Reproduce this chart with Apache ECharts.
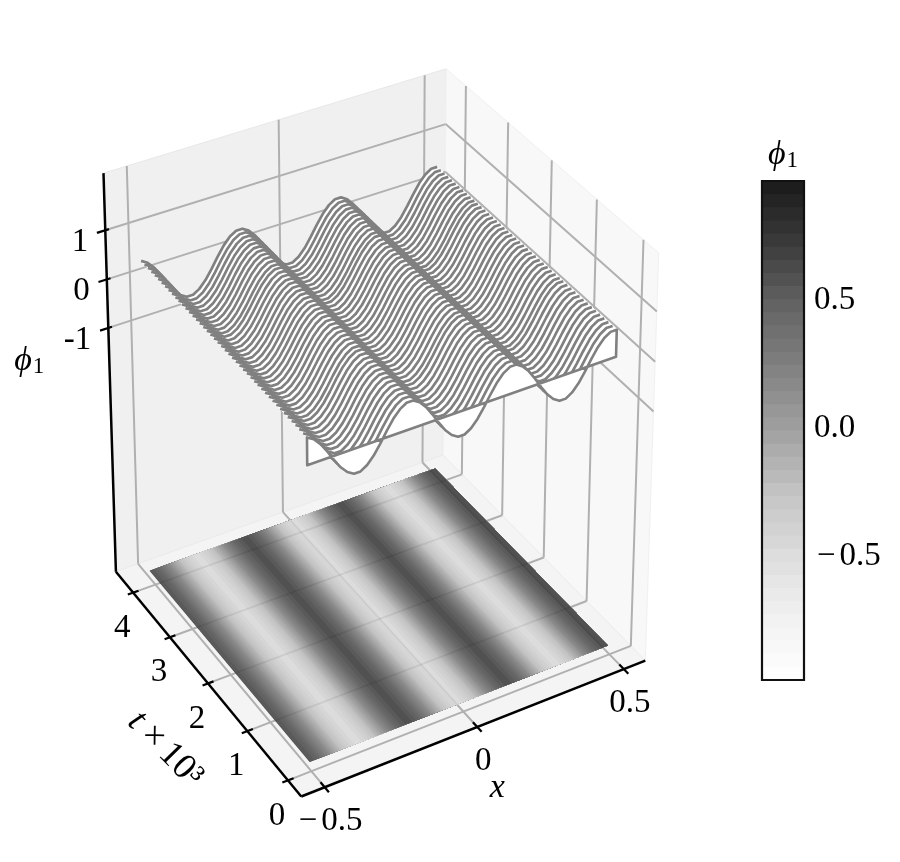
<!DOCTYPE html>
<html><head><meta charset="utf-8">
<style>html,body{margin:0;padding:0;background:#fff}#c{width:900px;height:862px}</style>
<script src="https://cdn.jsdelivr.net/npm/echarts@6/dist/echarts.min.js"></script>
</head><body><div id="c"></div>
<script>
// ---- data ----
const xTicks = [-0.5, 0, 0.5];
const tTicks = [0, 1, 2, 3, 4];
const zTicks = [-1, 0, 1];
const xTickLabels = ['{m|\u2212}0.5', '0', '0.5'];
const tTickLabels = ['0', '1', '2', '3', '4'];
const zTickLabels = ['-1', '0', '1'];
const cbarTicks = [-0.5, 0, 0.5];
const cbarLabels = ['{m|\u2212}0.5', '0.0', '0.5'];
// phi_1 along x, one sample every 1/48
const phiProfile = [
  0.54, 0.46, 0.32, 0.13, -0.08, -0.27, -0.41, -0.49, -0.49, -0.41, -0.27, -0.08, 0.13, 0.32, 0.46, 0.54,
  0.54, 0.46, 0.32, 0.13, -0.08, -0.27, -0.41, -0.49, -0.49, -0.41, -0.27, -0.08, 0.13, 0.32, 0.46, 0.54,
  0.54, 0.46, 0.32, 0.13, -0.08, -0.27, -0.41, -0.49, -0.49, -0.41, -0.27, -0.08, 0.13, 0.32, 0.46, 0.54,
  0.54
];
const xSamples = phiProfile.map((_, i) => -0.5 + i / 48);
// time stations of the waterfall lines (t x 10^3)
const tStations = [0.04,0.13,0.22,0.31,0.40,0.49,0.58,0.67,0.76,0.85,0.94,1.03,1.12,1.21,1.29,1.38,1.47,1.56,1.65,1.74,1.83,1.92,2.01,2.10,2.19,2.28,2.37,2.46,2.55,2.64,2.73,2.82,2.91,3.0,3.09,3.18,3.26,3.35,3.44,3.53,3.62,3.71,3.80,3.89,3.98,4.07,4.16];
const tLines = tStations.slice().reverse();
const baseZ = -0.05;
const floorZ = -6.05;
const cbarMin = -1.0, cbarMax = 0.95, cbarBands = 38;

// ---- axes box and camera ----
const XL = -0.575, XH = 0.575, TL = -0.32, TH = 4.48, ZL = -6.2, ZH = 2.15;
const calib = [
  [XL,TL,ZL,301,795],[XH,TL,ZL,645.7,661.7],[XL,TH,ZL,116.7,572.7],[XH,TH,ZL,442.7,453],
  [XL,TH,ZH,103.7,171.7],[XH,TH,ZH,446,70],[XH,TL,ZH,659,252.7],
  [-0.5,0,ZL,311.7,770],[0,TL,ZL,476.7,727.7],[XL,2,ZL,207.7,685.3],[XL,TH,0,106.3,280]
];
function solveCamera(pts){
  const A=Array.from({length:11},()=>new Array(12).fill(0));
  function add(r,b){for(let i=0;i<11;i++){for(let j=0;j<11;j++)A[i][j]+=r[i]*r[j];A[i][11]+=r[i]*b;}}
  pts.forEach(([X,Y,Z,u,v])=>{
    Z=Z/4; u/=500; v/=500;
    add([X,Y,Z,1,0,0,0,0,-u*X,-u*Y,-u*Z],u);
    add([0,0,0,0,X,Y,Z,1,-v*X,-v*Y,-v*Z],v);
  });
  for(let i=0;i<11;i++){
    let m=i;for(let r=i+1;r<11;r++)if(Math.abs(A[r][i])>Math.abs(A[m][i]))m=r;
    [A[i],A[m]]=[A[m],A[i]];
    for(let r=0;r<11;r++){if(r===i)continue;const f=A[r][i]/A[i][i];for(let c=i;c<12;c++)A[r][c]-=f*A[i][c];}
  }
  return A.map((row,i)=>row[11]/row[i]);
}
const P = solveCamera(calib);
function project(x,t,z){
  const Z=z/4, w=P[8]*x+P[9]*t+P[10]*Z+1;
  return [500*(P[0]*x+P[1]*t+P[2]*Z+P[3])/w, 500*(P[4]*x+P[5]*t+P[6]*Z+P[7])/w];
}

// ---- colours ----
const greyStops=[255,240,217,189,150,115,82,37,0];
const barAlpha=0.9;
function bandGrey(b){
  const f=(b+0.5)/cbarBands*8,i=Math.min(7,Math.floor(f));
  return greyStops[i]+(greyStops[i+1]-greyStops[i])*(f-i);
}
function bandIndex(v){return Math.max(0,Math.min(cbarBands-1,Math.floor((v-cbarMin)/(cbarMax-cbarMin)*cbarBands)));}
function bandOver(b,under){
  const g=Math.round(bandGrey(b)*barAlpha+under*(1-barAlpha));
  return 'rgb('+g+','+g+','+g+')';
}

// ---- floor bands from the profile ----
const floorBands=[];
(function(){
  let start=xSamples[0],cur=bandIndex(phiProfile[0]);
  for(let i=0;i<phiProfile.length-1;i++){
    for(let s=1;s<=10;s++){
      const f=s/10,v=phiProfile[i]+(phiProfile[i+1]-phiProfile[i])*f,x=xSamples[i]+(xSamples[i+1]-xSamples[i])*f,b=bandIndex(v);
      if(b!==cur){floorBands.push([start,cur]);start=x;cur=b;}
    }
  }
  floorBands.push([start,cur]);
})();

const SERIF='"Liberation Serif","DejaVu Serif",serif';
const FS=33;
const minusRich={m:{fontFamily:SERIF,fontSize:FS,fill:'#000',color:'#000',padding:[0,4,0,0]}};
function label(p,text,align){
  return {type:'text',x:p[0],y:p[1],silent:true,style:{text:text,fontFamily:SERIF,fontSize:FS,fill:'#000',align:align||'center',verticalAlign:'middle',rich:minusRich}};
}
function phiLabel(p){
  return {type:'text',x:p[0],y:p[1],silent:true,style:{text:'{a|\u03d5}{b|1}',align:'center',verticalAlign:'middle',fill:'#000',
    rich:{a:{fontFamily:SERIF,fontStyle:'italic',fontSize:34,fill:'#000'},b:{fontFamily:SERIF,fontSize:23,fill:'#000',verticalAlign:'bottom',padding:[12,0,0,1]}}}};
}
function seg(api,a,b,color,w){
  const p=api.coord(project(a[0],a[1],a[2])),q=api.coord(project(b[0],b[1],b[2]));
  return {type:'line',silent:true,shape:{x1:p[0],y1:p[1],x2:q[0],y2:q[1]},style:{stroke:color,lineWidth:w,lineCap:'butt'}};
}
function poly(api,pts,fill,stroke,w){
  return {type:'polygon',silent:true,shape:{points:pts.map(a=>api.coord(project(a[0],a[1],a[2])))},
    style:{fill:fill,stroke:stroke||null,lineWidth:w||0,lineJoin:'round'}};
}
// part of a grid line on the floor plane that lies under the contour sheet
function clipToQuad(a,b,quad){
  let t0=0,t1=1;const dx=b[0]-a[0],dy=b[1]-a[1];
  let area=0;for(let i=0;i<4;i++){const p=quad[i],q=quad[(i+1)%4];area+=p[0]*q[1]-q[0]*p[1];}
  const sgn=area>0?1:-1;
  for(let i=0;i<4;i++){
    const p=quad[i],q=quad[(i+1)%4],ex=q[0]-p[0],ey=q[1]-p[1];
    const d0=sgn*(ex*(a[1]-p[1])-ey*(a[0]-p[0])),dd=sgn*(ex*dy-ey*dx);
    if(Math.abs(dd)<1e-9){if(d0<0)return null;continue;}
    const r=-d0/dd;if(dd>0)t0=Math.max(t0,r);else t1=Math.min(t1,r);
  }
  if(t0>=t1)return null;
  return [[a[0]+dx*t0,a[1]+dy*t0],[a[0]+dx*t1,a[1]+dy*t1]];
}
function oneShot(fn){return {type:'custom',coordinateSystem:'cartesian2d',xAxisIndex:0,yAxisIndex:0,clip:false,silent:true,progressive:0,animation:false,
  data:[[0,0]],renderItem:function(params,api){return {type:'group',children:fn(api)};}};}

const GRID='#b0b0b0';
const tFront=tLines[tLines.length-1],tBack=tLines[0];
const curve=t=>xSamples.map((x,i)=>[x,t,phiProfile[i]+baseZ]);
const series=[
  // panes
  oneShot(api=>[
    poly(api,[[XL,TH,ZL],[XH,TH,ZL],[XH,TH,ZH],[XL,TH,ZH]],'#f0f0f0','#e8e8e8',1),
    poly(api,[[XH,TL,ZL],[XH,TH,ZL],[XH,TH,ZH],[XH,TL,ZH]],'#f8f8f8','#f0f0f0',1),
    poly(api,[[XL,TL,ZL],[XH,TL,ZL],[XH,TH,ZL],[XL,TH,ZL]],'#f4f4f4','#ececec',1)
  ]),
  // grid lines
  oneShot(api=>{
    const c=[],W=2;
    xTicks.forEach(x=>{c.push(seg(api,[x,TL,ZL],[x,TH,ZL],GRID,W));c.push(seg(api,[x,TH,ZL],[x,TH,ZH],GRID,W));});
    tTicks.forEach(t=>{c.push(seg(api,[XL,t,ZL],[XH,t,ZL],GRID,W));c.push(seg(api,[XH,t,ZL],[XH,t,ZH],GRID,W));});
    zTicks.forEach(z=>{c.push(seg(api,[XL,TH,z],[XH,TH,z],GRID,W));c.push(seg(api,[XH,TH,z],[XH,TL,z],GRID,W));});
    return c;
  }),
  // floor contours: each band runs to the far edge and the next one paints over it
  {type:'custom',coordinateSystem:'cartesian2d',xAxisIndex:0,yAxisIndex:0,clip:false,silent:true,progressive:0,animation:false,
    data:floorBands.map((b,i)=>[i,0]),
    renderItem:function(params,api){
      const b=floorBands[params.dataIndex],xe=xSamples[xSamples.length-1];
      return poly(api,[[b[0],tFront,floorZ],[xe,tFront,floorZ],[xe,tBack,floorZ],[b[0],tBack,floorZ]],bandOver(b[1],244));
    }},
  // grid lines showing through the contour sheet
  oneShot(api=>{
    const quad=[[-0.5,tFront],[0.5,tFront],[0.5,tBack],[-0.5,tBack]].map(q=>project(q[0],q[1],floorZ));
    const lines=[];
    xTicks.forEach(x=>lines.push([project(x,TL,ZL),project(x,TH,ZL)]));
    tTicks.forEach(t=>lines.push([project(XL,t,ZL),project(XH,t,ZL)]));
    const c=[];
    lines.forEach(l=>{
      const s=clipToQuad(l[0],l[1],quad);if(!s)return;
      const p=api.coord(s[0]),q=api.coord(s[1]);
      c.push({type:'line',silent:true,shape:{x1:p[0],y1:p[1],x2:q[0],y2:q[1]},style:{stroke:'rgba(0,0,0,0.07)',lineWidth:1.9}});
    });
    return c;
  }),
  // white sheet swept between neighbouring lines
  {type:'custom',coordinateSystem:'cartesian2d',xAxisIndex:0,yAxisIndex:0,clip:false,silent:true,progressive:0,animation:false,
    data:tLines.slice(0,-1).map((t,i)=>[i,0]),
    renderItem:function(params,api){
      const i=params.dataIndex;
      const pts=curve(tLines[i]).concat(curve(tLines[i+1]).reverse());
      return poly(api,pts,'#fff','#fff',1);
    }},
  // waterfall lines
  {type:'custom',coordinateSystem:'cartesian2d',xAxisIndex:0,yAxisIndex:0,clip:false,silent:true,progressive:0,animation:false,
    data:tLines.map((t,i)=>[i,0]),
    renderItem:function(params,api){
      const t=tLines[params.dataIndex];
      const pts=curve(t);
      if(params.dataIndex===tLines.length-1){
        pts.push([xSamples[xSamples.length-1],t,baseZ]);pts.push([xSamples[0],t,baseZ]);
        return poly(api,pts,'#fff','#808080',2.6);
      }
      return {type:'polyline',silent:true,shape:{points:pts.map(a=>api.coord(project(a[0],a[1],a[2])))},
        style:{fill:null,stroke:'#808080',lineWidth:2.7,lineJoin:'round',lineCap:'butt'}};
    }},
  // axis lines, ticks, labels
  oneShot(api=>{
    const c=[seg(api,[XL,TH,ZH],[XL,TH,ZL],'#000',2.5),seg(api,[XL,TH,ZL],[XL,TL,ZL],'#000',2.5),seg(api,[XL,TL,ZL],[XH,TL,ZL],'#000',2.5)];
    zTicks.forEach((z,i)=>{
      c.push(seg(api,[XL-0.027,TH,z],[XL+0.012,TH,z],'#000',2.2));
      const p=project(XL,TH,z);c.push(label(api.coord([p[0]-17,p[1]+12]),zTickLabels[i],'right'));
    });
    tTicks.forEach((t,i)=>{
      c.push(seg(api,[XL-0.018,t,ZL],[XL+0.018,t,ZL],'#000',2.2));
      const p=project(XL,t,ZL);c.push(label(api.coord([p[0]-11,p[1]+35.5]),tTickLabels[i]));
    });
    xTicks.forEach((x,i)=>{
      c.push(seg(api,[x,TL-0.1,ZL],[x,TL+0.1,ZL],'#000',2.2));
      const p=project(x,TL,ZL);c.push(label(api.coord([p[0]+6,p[1]+34.5]),xTickLabels[i]));
    });
    let p=project(0,TL,ZL),q=api.coord([p[0]+20,p[1]+61]);
    c.push({type:'text',x:q[0],y:q[1],silent:true,style:{text:'x',fontFamily:SERIF,fontStyle:'italic',fontSize:34,fill:'#000',align:'center',verticalAlign:'middle'}});
    p=project(XL,2,ZL);q=api.coord([p[0]-43,p[1]+66]);
    c.push({type:'text',x:q[0],y:q[1],rotation:-0.8,silent:true,style:{text:'{i|t}{x|\u00d7}10\u00b3',fontFamily:SERIF,fontSize:36,fill:'#000',align:'center',verticalAlign:'middle',
      rich:{i:{fontFamily:SERIF,fontStyle:'italic',fontSize:36,fill:'#000'},x:{fontFamily:SERIF,fontSize:36,fill:'#000',padding:[0,6,0,8]}}}});
    p=project(XL,TH,-1);c.push(phiLabel(api.coord([p[0]-79,p[1]+33])));
    return c;
  }),
  // colour bar
  {type:'custom',coordinateSystem:'cartesian2d',xAxisIndex:1,yAxisIndex:1,clip:false,silent:true,progressive:0,animation:false,
    data:Array.from({length:cbarBands},(_,i)=>[i,0]),
    renderItem:function(params,api){
      const i=params.dataIndex,st=(cbarMax-cbarMin)/cbarBands;
      const a=api.coord([0,cbarMin+i*st]),b=api.coord([1,cbarMax]);
      return {type:'rect',silent:true,shape:{x:a[0],y:b[1],width:b[0]-a[0],height:a[1]-b[1]},style:{fill:bandOver(i,255)}};
    }},
  {type:'custom',coordinateSystem:'cartesian2d',xAxisIndex:1,yAxisIndex:1,clip:false,silent:true,progressive:0,animation:false,z:5,
    data:[[0,0]],
    renderItem:function(params,api){
      const a=api.coord([0,cbarMin]),b=api.coord([1,cbarMax]);
      return {type:'group',children:[
        {type:'rect',silent:true,shape:{x:a[0],y:b[1],width:b[0]-a[0],height:a[1]-b[1]},style:{fill:'none',stroke:'#111',lineWidth:2.2}},
        phiLabel([(a[0]+b[0])/2,b[1]-26])
      ]};
    }}
];

const chart=echarts.init(document.getElementById('c'),null,{renderer:'canvas'});
chart.setOption({
  animation:false,backgroundColor:'#fff',tooltip:{show:false},
  grid:[{left:0,top:0,width:900,height:862,containLabel:false},{left:762,top:181,width:42,height:499,containLabel:false}],
  xAxis:[{type:'value',min:0,max:900,show:false,gridIndex:0},{type:'value',min:0,max:1,show:false,gridIndex:1}],
  yAxis:[{type:'value',min:0,max:862,inverse:true,show:false,gridIndex:0},
    {type:'value',min:cbarMin,max:cbarMax,gridIndex:1,position:'right',scale:true,
     axisLine:{show:false},splitLine:{show:false},
     axisTick:{show:true,length:2,inside:false,customValues:cbarTicks,lineStyle:{color:'#000',width:1.5}},
     axisLabel:{show:true,margin:10,customValues:cbarTicks,color:'#000',fontFamily:SERIF,fontSize:FS,align:'left',padding:[8,0,0,0],
       rich:{m:{fontFamily:SERIF,fontSize:FS,color:'#000',padding:[0,4,0,3]}},
       formatter:function(v){const i=cbarTicks.findIndex(c=>Math.abs(c-v)<1e-6);return i>=0?cbarLabels[i]:'';}}}],
  series:series
});
</script></body></html>
